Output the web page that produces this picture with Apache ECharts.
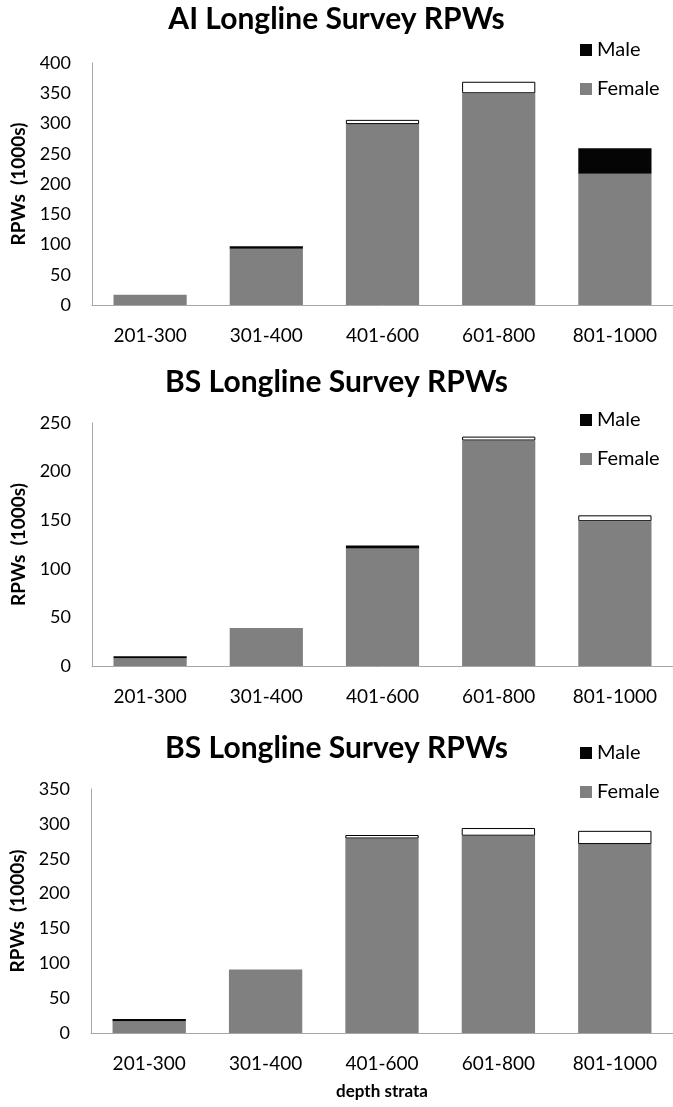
<!DOCTYPE html>
<html>
<head>
<meta charset="utf-8">
<script src="https://cdn.jsdelivr.net/npm/echarts@6/dist/echarts.min.js"></script>
<style>
html,body{margin:0;padding:0;background:#fff;}
#chart{width:673px;height:1107px;}
</style>
</head>
<body>
<div id="chart"></div>
<script>
// ---- data ----
var categories = ['201-300', '301-400', '401-600', '601-800', '801-1000'];
var titles = ['AI Longline Survey RPWs', 'BS Longline Survey RPWs', 'BS Longline Survey RPWs'];
var yMax = [400, 250, 350];
var yInterval = 50;

var aiFemale = [17, 93, 299, 350, 217];
var aiMale = [null, 4, null, null, 42];
var aiUnknown = [null, null, 7, 19, null];

var bs1Female = [8, 39, 121, 232, 149];
var bs1Male = [2, null, 3, null, null];
var bs1Unknown = [null, null, null, 4, 6];

var bs2Female = [17, 91, 279, 283, 271];
var bs2Male = [3, null, null, null, null];
var bs2Unknown = [null, null, 5, 11, 19];

var panels = [
  {female: aiFemale, male: aiMale, unknown: aiUnknown},
  {female: bs1Female, male: bs1Male, unknown: bs1Unknown},
  {female: bs2Female, male: bs2Male, unknown: bs2Unknown}
];

// ---- layout ----
var FONT = 'Lato';
var gridLayout = [
  {left: 92, top: 63, height: 242, width: 584},
  {left: 92, top: 423, height: 243, width: 584},
  {left: 91, top: 789, height: 244, width: 584}
];
var titleTops = [4, 367, 733];
var legendTops = [40, 410, 743];

var option = {
  backgroundColor: '#ffffff',
  animation: false,
  title: [], legend: [], grid: [], xAxis: [], yAxis: [], series: []
};

panels.forEach(function (p, i) {
  option.title.push({
    text: titles[i], left: 'center', top: titleTops[i], padding: 0,
    textStyle: {fontFamily: FONT, fontWeight: 'bold', fontSize: 30, color: '#000'}
  });
  option.legend.push({
    data: ['Male', 'Female'], orient: 'vertical', left: 580, top: legendTops[i], padding: 0,
    icon: 'rect', itemWidth: 12, itemHeight: 12, itemGap: 19, selectedMode: false,
    textStyle: {fontFamily: FONT, fontSize: 20, color: '#000', lineHeight: 20, padding: [0, 0, 0, 0]}
  });
  option.grid.push(gridLayout[i]);
  option.xAxis.push({
    type: 'category', data: categories, gridIndex: i,
    axisLine: {lineStyle: {color: '#a6a6a6', width: 1}},
    axisTick: {show: false},
    axisLabel: {fontFamily: FONT, fontSize: 19, color: '#000', margin: 21},
    name: i === 2 ? 'depth strata' : '',
    nameLocation: 'middle', nameGap: 50,
    nameTextStyle: {fontFamily: FONT, fontWeight: 'bold', fontSize: 17, color: '#000'}
  });
  option.yAxis.push({
    type: 'value', gridIndex: i, min: 0, max: yMax[i], interval: yInterval,
    axisLine: {show: true, lineStyle: {color: '#a6a6a6', width: 1}},
    axisTick: {show: false},
    splitLine: {show: false},
    axisLabel: {fontFamily: FONT, fontSize: 18, color: '#000', margin: 21},
    name: 'RPWs  (1000s)', nameLocation: 'middle', nameGap: 62, nameRotate: 90,
    nameTextStyle: {fontFamily: FONT, fontWeight: 'bold', fontSize: 19, color: '#000'}
  });
  var stackId = 'st' + i;
  option.series.push({
    name: 'Female', type: 'bar', stack: stackId, xAxisIndex: i, yAxisIndex: i,
    barCategoryGap: '37%', data: p.female,
    itemStyle: {color: '#808080'}
  });
  option.series.push({
    name: 'Male', type: 'bar', stack: stackId, xAxisIndex: i, yAxisIndex: i,
    barCategoryGap: '37%', data: p.male,
    itemStyle: {color: '#050505'}
  });
  option.series.push({
    name: 'Unsexed', type: 'bar', stack: stackId, xAxisIndex: i, yAxisIndex: i,
    barCategoryGap: '37%', data: p.unknown,
    itemStyle: {color: '#ffffff', borderColor: '#000000', borderWidth: 1}
  });
});

var chart = echarts.init(document.getElementById('chart'), null, {renderer: 'canvas'});
chart.setOption(option);
</script>
</body>
</html>
